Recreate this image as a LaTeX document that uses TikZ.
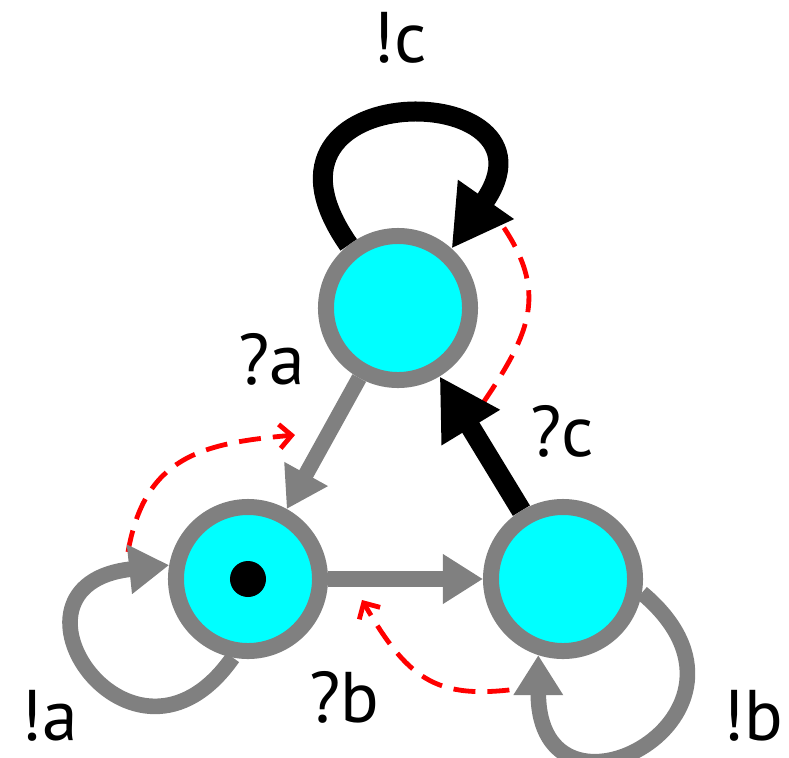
\documentclass[tikz,border=0pt]{standalone}
\usepackage{fontspec}
\setmainfont{PT Sans}
\usepackage{tikz}
\pgfdeclarelayer{background}
\pgfsetlayers{background,main}
\usetikzlibrary{arrows.meta}
\definecolor{stfill}{HTML}{00FFFF}
\definecolor{stgray}{HTML}{808080}
\definecolor{hintred}{HTML}{FF0000}

\begin{document}
\begin{tikzpicture}[
    x=0.025cm, y=0.025cm,
    state/.style={circle, draw=stgray, fill=stfill, line width=0.4cm,
        minimum size=3.6cm, inner sep=0pt},
    dot/.style={circle, fill=black, minimum size=0.9cm, inner sep=0pt},
    lbl/.style={font=\fontsize{51}{60}\selectfont, inner sep=0pt},
    gedge/.style={draw=stgray, line width=0.39cm,
        -{Triangle[length=1.0cm, width=1.175cm]}},
    bedge/.style={draw=black, line width=0.5cm,
        -{Triangle[length=1.5cm, width=1.6cm]}},
    hint/.style={draw=hintred, line width=0.12cm, dash pattern=on 0.55cm off 0.3cm},
    hinttip/.style={hint, -{Straight Barb[length=0.3cm, width=0.6cm]}}
]
\useasboundingbox (0,0) rectangle (789,-757);

% States
\node[state] (T) at (398,-308) {};
\node[state] (L) at (248,-579) {};
\node[state] (R) at (563,-579) {};
\node[dot] (init) at (L) {};

% Labels
\node[lbl] (lc) at (400,-38) {!c};
\node[lbl] (qa) at (272,-359) {?a};
\node[lbl] (qc) at (562,-431) {?c};
\node[lbl] (la) at (49,-716) {!a};
\node[lbl] (qb) at (344,-697) {?b};
\node[lbl] (lb) at (753,-716) {!b};

% Ends of the dashed hints
\coordinate (ha) at (128,-552);
\coordinate (hA) at (295,-435);
\coordinate (hb) at (543,-685);
\coordinate (hB) at (362,-600);
\coordinate (hc) at (483,-403);
\coordinate (hC) at (500,-222);

\begin{pgfonlayer}{background}
% Dashed hints
\draw[hinttip] (ha) to[out=80, in=185, looseness=1.2] (hA);
\draw[hinttip] (hb) to[out=190, in=-60, looseness=1.3] (hB);
\draw[hint] (hc) to[out=56, in=-55, looseness=1.2] (hC);

% Transitions
\draw[gedge] (T) -- (L);
\draw[gedge] (L) -- (R);
\draw[gedge] (L.-101) .. controls +(-125:175) and +(186:185) .. (L.170);
\draw[gedge] (R.-10) .. controls +(-40:190) and +(-90:190) .. (R.-108);
\draw[bedge] (R) -- (T);
\draw[bedge] (T.128) .. controls +(125:210) and +(55:210) .. (T.48);
\end{pgfonlayer}

\end{tikzpicture}
\end{document}
